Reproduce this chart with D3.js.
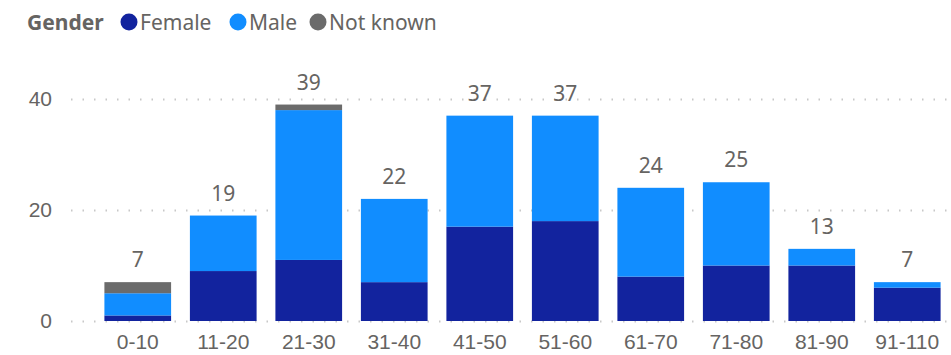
<!DOCTYPE html>
<html>
<head>
<meta charset="utf-8">
<script src="https://cdn.jsdelivr.net/npm/d3@7"></script>
<style>
  html, body { margin: 0; padding: 0; background: #fff; }
  svg { display: block; font-family: "Segoe UI", "Noto Sans", "Open Sans", sans-serif; }
</style>
</head>
<body>
<svg id="chart" width="951" height="355"></svg>
<script>
// Age bands and head counts per gender
const ageBands = ["0-10", "11-20", "21-30", "31-40", "41-50", "51-60", "61-70", "71-80", "81-90", "91-110"];
const female   = [1, 9, 11, 7, 17, 18, 8, 10, 10, 6];
const male     = [4, 10, 27, 15, 20, 19, 16, 15, 3, 1];
const notKnown = [2, 0, 1, 0, 0, 0, 0, 0, 0, 0];
const yTicks   = [0, 20, 40];

const seriesNames  = ["Female", "Male", "Not known"];
const seriesColors = ["#12239E", "#118DFF", "#6B6B6B"];

const rows = ageBands.map((band, i) => ({
  band,
  "Female": female[i],
  "Male": male[i],
  "Not known": notKnown[i]
}));

const svg = d3.select("#chart");
const W = 951, H = 355;
const margin = { left: 95, right: 1, top: 99, bottom: 34 };

const x = d3.scaleBand()
  .domain(ageBands)
  .range([margin.left, W - margin.right])
  .paddingInner(0.22)
  .paddingOuter(0.11);

const y = d3.scaleLinear()
  .domain([0, 40])
  .range([H - margin.bottom, margin.top]);

const textColor = "#666462";

// Dotted gridlines
svg.append("g")
  .selectAll("line")
  .data(yTicks)
  .join("line")
  .attr("x1", 71)
  .attr("x2", W)
  .attr("y1", d => Math.round(y(d)) + 0.5)
  .attr("y2", d => Math.round(y(d)) + 0.5)
  .attr("stroke", "#C8C8C8")
  .attr("stroke-width", 2)
  .attr("stroke-dasharray", "1.5,10");

// Y axis labels
const yAxis = d3.axisLeft(y).tickValues(yTicks).tickSize(0).tickPadding(0);
svg.append("g")
  .attr("transform", "translate(52,0)")
  .call(yAxis)
  .call(g => g.select(".domain").remove())
  .call(g => g.selectAll("text")
    .attr("fill", textColor)
    .attr("font-size", 21)
    .attr("font-family", null));

// X axis labels
const xAxis = d3.axisBottom(x).tickSize(0).tickPadding(0);
svg.append("g")
  .attr("transform", `translate(0,${H - margin.bottom + 13})`)
  .call(xAxis)
  .call(g => g.select(".domain").remove())
  .call(g => g.selectAll("text")
    .attr("fill", textColor)
    .attr("font-size", 21)
    .attr("font-family", null));

// Stacked bars
const stacked = d3.stack().keys(seriesNames)(rows);
const color = d3.scaleOrdinal().domain(seriesNames).range(seriesColors);

svg.append("g")
  .selectAll("g")
  .data(stacked)
  .join("g")
  .attr("fill", d => color(d.key))
  .selectAll("rect")
  .data(d => d.filter(s => s[1] > s[0]))
  .join("rect")
  .attr("x", d => x(d.data.band))
  .attr("width", x.bandwidth())
  .attr("y", d => y(d[1]))
  .attr("height", d => y(d[0]) - y(d[1]));

// Total labels above each bar
svg.append("g")
  .selectAll("text")
  .data(rows)
  .join("text")
  .attr("x", d => x(d.band) + x.bandwidth() / 2)
  .attr("y", d => y(d.Female + d.Male + d["Not known"]) - 15)
  .attr("text-anchor", "middle")
  .attr("fill", textColor)
  .attr("font-size", 21)
  .text(d => d.Female + d.Male + d["Not known"]);

// Legend
const legend = svg.append("g").attr("transform", "translate(27,30)");
legend.append("text")
  .attr("x", 0).attr("y", 0)
  .attr("fill", textColor)
  .attr("font-size", 21)
  .attr("font-weight", "bold")
  .text("Gender");

const legendX = [129, 238, 318];
seriesNames.forEach((name, i) => {
  legend.append("circle")
    .attr("cx", legendX[i] - 27)
    .attr("cy", -8)
    .attr("r", 8.5)
    .attr("fill", seriesColors[i]);
  legend.append("text")
    .attr("x", legendX[i] - 27 + 11)
    .attr("y", 0)
    .attr("fill", textColor)
    .attr("font-size", 21)
    .text(name);
});
</script>
</body>
</html>
